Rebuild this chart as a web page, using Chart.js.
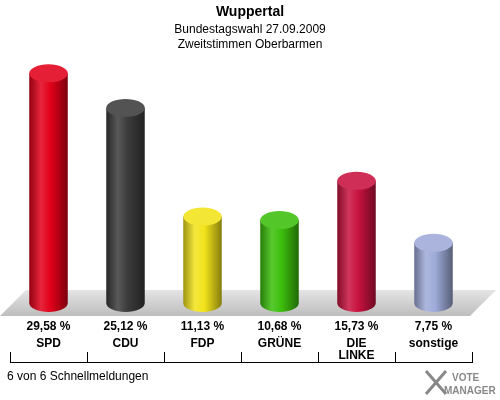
<!DOCTYPE html>
<html>
<head>
<meta charset="utf-8">
<script src="https://cdn.jsdelivr.net/npm/chart.js@4"></script>
<style>
  body { margin: 0; background: #fff; }
  #wrap { width: 500px; height: 400px; position: relative; }
</style>
</head>
<body>
<div id="wrap"><canvas id="myChart" width="500" height="400"></canvas></div>
<script>
// Chart data
const parties = ['SPD', 'CDU', 'FDP', 'GRÜNE', 'DIE\nLINKE', 'sonstige']
const shares = [29.58, 25.12, 11.13, 10.68, 15.73, 7.75]
const valueLabels = ['29,58 %', '25,12 %', '11,13 %', '10,68 %', '15,73 %', '7,75 %']
const barColors = ['#e2001a', '#3c3c3c', '#f2e31a', '#3cbf0c', '#c8123f', '#9eaad8']

const titleText = 'Wuppertal'
const subLines = ['Bundestagswahl 27.09.2009', 'Zweitstimmen Oberbarmen']
const footText = '6 von 6 Schnellmeldungen'

function shade(hex, f) {
    let n = parseInt(hex.slice(1), 16)
    let r = (n >> 16) & 255, g = (n >> 8) & 255, b = n & 255
    let m = c => f < 0 ? Math.round(c * (1 + f)) : Math.round(c + (255 - c) * f)
    return 'rgb(' + m(r) + ',' + m(g) + ',' + m(b) + ')'
}

// draws floor, cylinders and the texts
const cylinderPlugin = {
    id: 'cylinders',
    beforeDatasetsDraw(chart) {
        const ctx = chart.ctx
        // floor
        let g = ctx.createLinearGradient(0, 290, 0, 316)
        g.addColorStop(0, '#e4e4e4')
        g.addColorStop(1, '#bdbdbd')
        ctx.fillStyle = g
        ctx.beginPath()
        ctx.moveTo(0, 316); ctx.lineTo(470, 316); ctx.lineTo(496, 290); ctx.lineTo(26, 290)
        ctx.closePath(); ctx.fill()
    },
    afterDatasetsDraw(chart) {
        const ctx = chart.ctx
        const meta = chart.getDatasetMeta(0)
        const xScale = chart.scales.x
        const ry = 9
        meta.data.forEach((bar, i) => {
            const w = bar.width, x = bar.x, top = bar.y, base = bar.base
            const col = barColors[i]
            let g = ctx.createLinearGradient(x - w / 2, 0, x + w / 2, 0)
            g.addColorStop(0, shade(col, -0.35))
            g.addColorStop(0.3, shade(col, 0.15))
            g.addColorStop(0.55, col)
            g.addColorStop(1, shade(col, -0.45))
            ctx.fillStyle = g
            ctx.beginPath()
            ctx.moveTo(x - w / 2, top)
            ctx.lineTo(x - w / 2, base)
            ctx.ellipse(x, base, w / 2, ry, 0, Math.PI, 0, true)
            ctx.lineTo(x + w / 2, top)
            ctx.closePath(); ctx.fill()
            ctx.fillStyle = shade(col, 0.12)
            ctx.beginPath()
            ctx.ellipse(x, top, w / 2, ry, 0, 0, Math.PI * 2)
            ctx.fill()

            // labels
            ctx.fillStyle = '#000'
            ctx.textAlign = 'center'
            ctx.textBaseline = 'middle'
            ctx.font = 'bold 12px "Liberation Sans", Arial, sans-serif'
            ctx.fillText(valueLabels[i], x, 327)
            parties[i].split('\n').forEach((t, k) => ctx.fillText(t, x, 344 + k * 12))
        })
        // axis line with separators
        const step = xScale.getPixelForValue(1) - xScale.getPixelForValue(0)
        ctx.strokeStyle = '#000'
        ctx.lineWidth = 1
        ctx.beginPath()
        ctx.moveTo(10, 362.5); ctx.lineTo(472, 362.5)
        for (let i = 0; i <= parties.length; i++) {
            const sx = Math.round(xScale.getPixelForValue(0) - step / 2 + i * step) + 0.5
            ctx.moveTo(sx, 352); ctx.lineTo(sx, 363)
        }
        ctx.stroke()

        // titles
        ctx.textAlign = 'center'
        ctx.font = 'bold 14px "Liberation Sans", Arial, sans-serif'
        ctx.fillText(titleText, 250, 12)
        ctx.font = '12px "Liberation Sans", Arial, sans-serif'
        ctx.fillText(subLines[0], 250, 30)
        ctx.fillText(subLines[1], 250, 45)
        ctx.textAlign = 'left'
        ctx.fillText(footText, 7, 377)

        // logo
        ctx.fillStyle = '#888'
        ctx.font = 'bold 10px "Liberation Sans", Arial, sans-serif'
        ctx.fillText('VOTE', 452, 378)
        ctx.fillText('MANAGER', 444, 391)
        ctx.strokeStyle = '#888'
        ctx.lineWidth = 3
        ctx.beginPath()
        ctx.moveTo(426, 371); ctx.lineTo(446, 394)
        ctx.moveTo(446, 371); ctx.lineTo(426, 394)
        ctx.stroke()
    }
}

new Chart(document.getElementById('myChart'), {
    type: 'bar',
    data: {
        labels: parties,
        datasets: [{
            data: shares,
            backgroundColor: 'rgba(0,0,0,0)',
            barPercentage: 0.5,
            categoryPercentage: 1
        }]
    },
    options: {
        responsive: false,
        animation: false,
        layout: { padding: { top: 70, bottom: 97, left: 10, right: 28 } },
        plugins: { legend: { display: false }, tooltip: { enabled: false } },
        scales: {
            x: { display: false },
            y: { display: false, min: 0, max: 30 }
        }
    },
    plugins: [cylinderPlugin]
})
</script>
</body>
</html>
